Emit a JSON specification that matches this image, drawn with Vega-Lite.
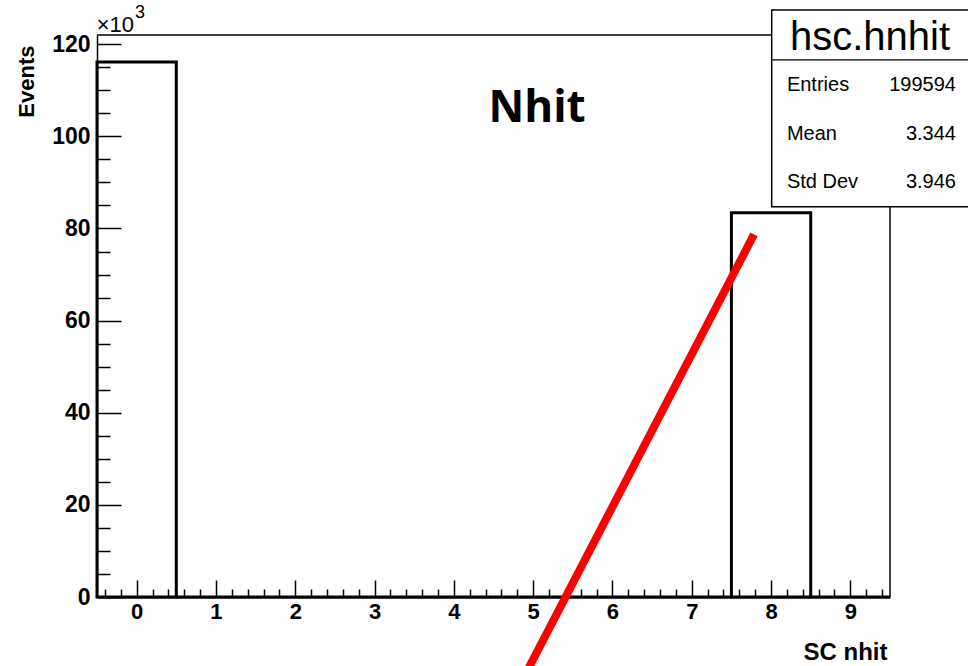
{
  "$schema": "https://vega.github.io/schema/vega-lite/v6.json",
  "width": 793,
  "height": 562,
  "autosize": "none",
  "padding": {"left": 97, "top": 35, "right": 78, "bottom": 69},
  "background": "white",
  "view": {"stroke": null},
  "config": {
    "font": "Liberation Sans",
    "axis": {
      "domainColor": "black",
      "tickColor": "black",
      "labelColor": "black",
      "titleColor": "black",
      "grid": false,
      "labelFont": "Liberation Sans",
      "titleFont": "Liberation Sans",
      "labelFontWeight": "bold",
      "titleFontWeight": "bold"
    }
  },
  "data": {
    "values": [
      {"nhit": 0, "events": 116164},
      {"nhit": 1, "events": 0},
      {"nhit": 2, "events": 0},
      {"nhit": 3, "events": 0},
      {"nhit": 4, "events": 0},
      {"nhit": 5, "events": 0},
      {"nhit": 6, "events": 0},
      {"nhit": 7, "events": 0},
      {"nhit": 8, "events": 83430},
      {"nhit": 9, "events": 0}
    ]
  },
  "resolve": {"axis": {"x": "independent", "y": "independent"}},
  "layer": [
    {
      "transform": [
        {"bin": {"extent": [-0.5, 9.5], "step": 1, "nice": false}, "field": "nhit", "as": ["lo", "hi"]}
      ],
      "mark": {"type": "bar", "filled": false, "color": "black", "strokeWidth": 3, "clip": false},
      "encoding": {
        "x": {
          "field": "lo", "type": "quantitative",
          "scale": {"domain": [-0.5, 9.5], "nice": false, "zero": false},
          "axis": {
            "orient": "bottom",
            "values": [0, 1, 2, 3, 4, 5, 6, 7, 8, 9],
            "tickSize": -17, "tickWidth": 1.5,
            "domainWidth": 2,
            "labelFontSize": 22, "labelPadding": 21,
            "title": "SC nhit", "titleFontSize": 24,
            "titleAlign": "right", "titleBaseline": "alphabetic",
            "titleAnchor": "end", "titleX": 790, "titleY": 62
          }
        },
        "x2": {"field": "hi"},
        "y": {
          "field": "events", "type": "quantitative",
          "scale": {"domain": [0, 122000], "nice": false},
          "axis": {
            "orient": "left",
            "values": [0, 20000, 40000, 60000, 80000, 100000, 120000],
            "labelExpr": "format(datum.value / 1000, 'd')",
            "tickSize": -24, "tickWidth": 1.5,
            "domainWidth": 1.5,
            "labelFontSize": 23, "labelPadding": 31,
            "title": "Events", "titleFontSize": 22,
            "titleAngle": 270, "titleAlign": "right", "titleBaseline": "alphabetic",
            "titleAnchor": "end", "titleX": -64, "titleY": 10
          }
        },
        "y2": {"datum": 0}
      }
    },
    {
      "data": {"values": [{}]},
      "mark": {"type": "rule", "strokeWidth": 0, "opacity": 0},
      "encoding": {
        "x": {
          "datum": 0, "type": "quantitative",
          "axis": {
            "orient": "bottom",
            "values": [-0.4, -0.2, 0.2, 0.4, 0.6, 0.8, 1.2, 1.4, 1.6, 1.8, 2.2, 2.4, 2.6, 2.8, 3.2, 3.4, 3.6, 3.8, 4.2, 4.4, 4.6, 4.8, 5.2, 5.4, 5.6, 5.8, 6.2, 6.4, 6.6, 6.8, 7.2, 7.4, 7.6, 7.8, 8.2, 8.4, 8.6, 8.8, 9.2, 9.4],
            "tickSize": -8, "tickWidth": 1.5,
            "labels": false, "domain": false, "title": null
          }
        },
        "y": {
          "datum": 0, "type": "quantitative",
          "axis": {
            "orient": "left",
            "values": [5000, 10000, 15000, 25000, 30000, 35000, 45000, 50000, 55000, 65000, 70000, 75000, 85000, 90000, 95000, 105000, 110000, 115000],
            "tickSize": -13, "tickWidth": 1.5,
            "labels": false, "domain": false, "title": null
          }
        }
      }
    },
    {
      "data": {"values": [{}]},
      "mark": {"type": "rule", "color": "black", "strokeWidth": 1.5, "clip": false},
      "encoding": {
        "x": {"datum": -0.5, "type": "quantitative", "axis": null},
        "x2": {"datum": 9.5},
        "y": {"datum": 122000, "type": "quantitative", "axis": null}
      }
    },
    {
      "data": {"values": [{}]},
      "mark": {"type": "rule", "color": "black", "strokeWidth": 1.5, "clip": false},
      "encoding": {
        "x": {"datum": 9.5, "type": "quantitative", "axis": null},
        "y": {"datum": 0, "type": "quantitative", "axis": null},
        "y2": {"datum": 122000}
      }
    },
    {
      "data": {"values": [{}]},
      "mark": {"type": "rect", "fill": "white", "stroke": "black", "strokeWidth": 1.5, "clip": false},
      "encoding": {
        "x": {"datum": 8.008, "type": "quantitative", "axis": null},
        "x2": {"datum": 11.2},
        "y": {"datum": 127450, "type": "quantitative", "axis": null},
        "y2": {"datum": 84700}
      }
    },
    {
      "data": {"values": [{}]},
      "mark": {"type": "rule", "color": "black", "strokeWidth": 1.2, "clip": false},
      "encoding": {
        "x": {"datum": 8.008, "type": "quantitative", "axis": null},
        "x2": {"datum": 11.2},
        "y": {"datum": 116600, "type": "quantitative", "axis": null}
      }
    },
    {
      "data": {"values": [{}]},
      "mark": {"type": "text", "text": "hsc.hnhit", "font": "Liberation Sans", "fontSize": 40, "align": "center", "baseline": "alphabetic", "color": "black", "clip": false},
      "encoding": {
        "x": {"datum": 9.248, "type": "quantitative", "axis": null},
        "y": {"datum": 118800, "type": "quantitative", "axis": null}
      }
    },
    {
      "data": {
        "values": [
          {"label": "Entries", "value": "199594", "row": 109900},
          {"label": "Mean", "value": "3.344", "row": 99100},
          {"label": "Std Dev", "value": "3.946", "row": 88800}
        ]
      },
      "layer": [
        {
          "mark": {"type": "text", "font": "Liberation Sans", "fontSize": 20, "align": "left", "baseline": "alphabetic", "color": "black", "clip": false},
          "encoding": {
            "x": {"datum": 8.2, "type": "quantitative", "axis": null},
            "y": {"field": "row", "type": "quantitative", "axis": null},
            "text": {"field": "label"}
          }
        },
        {
          "mark": {"type": "text", "font": "Liberation Sans", "fontSize": 20, "align": "right", "baseline": "alphabetic", "color": "black", "clip": false},
          "encoding": {
            "x": {"datum": 10.332, "type": "quantitative", "axis": null},
            "y": {"field": "row", "type": "quantitative", "axis": null},
            "text": {"field": "value"}
          }
        }
      ]
    },
    {
      "data": {"values": [{}]},
      "mark": {"type": "text", "text": "Nhit", "font": "Open Sans", "fontWeight": "bold", "fontSize": 44, "align": "center", "baseline": "alphabetic", "color": "black", "clip": false},
      "encoding": {
        "x": {"datum": 5.05, "type": "quantitative", "axis": null},
        "y": {"datum": 103100, "type": "quantitative", "axis": null}
      }
    },
    {
      "data": {"values": [{}]},
      "mark": {"type": "text", "text": "×10", "font": "Liberation Sans", "fontSize": 22, "align": "left", "baseline": "alphabetic", "color": "black", "clip": false},
      "encoding": {
        "x": {"datum": -0.504, "type": "quantitative", "axis": null},
        "y": {"datum": 122700, "type": "quantitative", "axis": null}
      }
    },
    {
      "data": {"values": [{}]},
      "mark": {"type": "text", "text": "3", "font": "Liberation Sans", "fontSize": 18, "align": "left", "baseline": "alphabetic", "color": "black", "clip": false},
      "encoding": {
        "x": {"datum": -0.021, "type": "quantitative", "axis": null},
        "y": {"datum": 125700, "type": "quantitative", "axis": null}
      }
    },
    {
      "data": {"values": [{}]},
      "mark": {"type": "rule", "color": "#ff0000", "strokeWidth": 8, "strokeCap": "butt", "clip": false},
      "encoding": {
        "x": {"datum": 7.785, "type": "quantitative", "axis": null},
        "y": {"datum": 78700, "type": "quantitative", "axis": null},
        "x2": {"datum": 4.92},
        "y2": {"datum": -16200}
      }
    }
  ]
}
